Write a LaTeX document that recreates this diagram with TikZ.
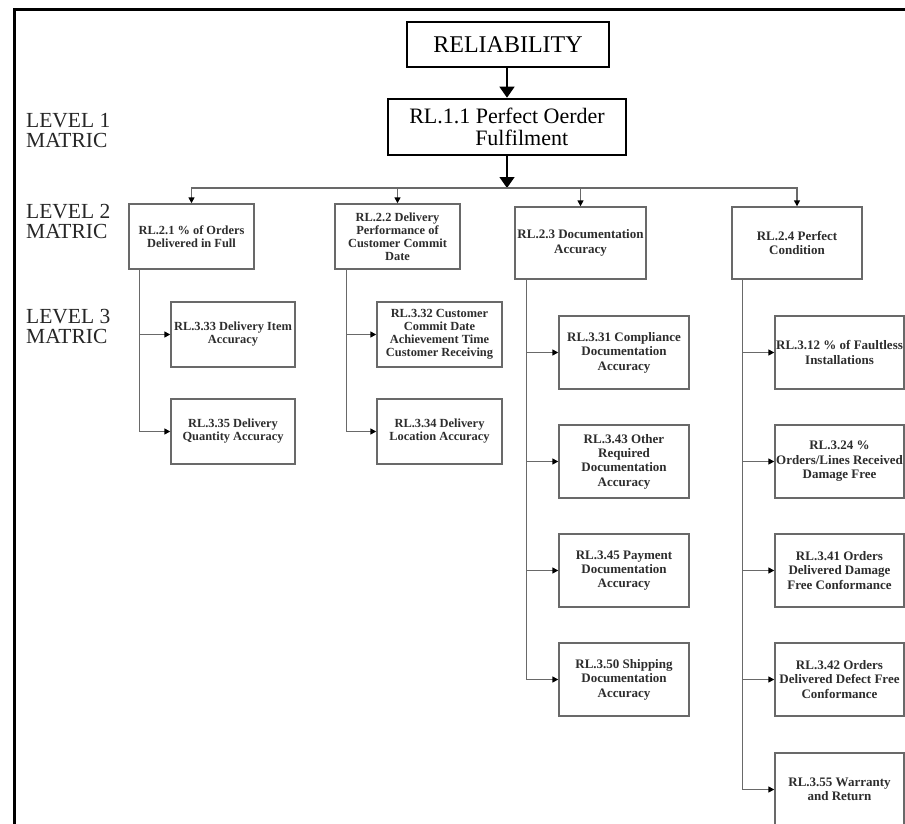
\documentclass[tikz,border=0pt]{standalone}
\usepackage{fontspec}
\setmainfont{Liberation Serif}
\usetikzlibrary{arrows.meta}
\definecolor{lngray}{RGB}{105,105,105}
\definecolor{txgray}{RGB}{45,45,45}
\begin{document}
\begin{tikzpicture}[x=1pt,y=-1pt,
  topbox/.style={draw=black,line width=2.6pt,inner sep=0pt,align=center,text=black},
  midbox/.style={draw=lngray,line width=1.4pt,inner sep=0pt,align=center,text=txgray,font=\fontsize{12.4}{13}\selectfont\bfseries},
  widebox/.style={midbox,font=\fontsize{13}{14.4}\selectfont\bfseries},
  lvl/.style={anchor=base west,inner sep=0pt,font=\fontsize{21.5}{22}\selectfont,text=black!85},
  bigarr/.style={draw=black,line width=1.4pt,-{Triangle[width=15pt,length=11pt]}},
  conn/.style={draw=lngray,line width=1.4pt,-{Triangle[width=6pt,length=6pt,color=black]}}]
\useasboundingbox (0,0) rectangle (905,824);
\fill[white] (0,0) rectangle (905,824);
% outer frame
\draw[line width=3pt,black] (14,830) -- (14,10) -- (910,10);

% level labels
\node[lvl] (lv1a) at (26,128) {LEVEL 1};
\node[lvl] (lv1b) at (26,148) {MATRIC};
\node[lvl] (lv2a) at (26,218) {LEVEL 2};
\node[lvl] (lv2b) at (26,238) {MATRIC};
\node[lvl] (lv3a) at (26,323) {LEVEL 3};
\node[lvl] (lv3b) at (26,343) {MATRIC};

% top boxes
\node[topbox,minimum width=202pt,minimum height=45pt,font=\fontsize{24}{26}\selectfont] (rel) at (508,44.5) {RELIABILITY};
\node[topbox,minimum width=238pt,minimum height=56pt,align=left,font=\fontsize{22}{22}\selectfont] (l1) at (507,127) {RL.1.1 Perfect Oerder\\\hspace*{66pt}Fulfilment};
\draw[bigarr] (l1.north |- rel.south) -- (l1.north);
\coordinate (bus) at (507,188);
\draw[bigarr] (l1.south) -- (bus);

% level 2
\node[midbox,minimum width=125pt,minimum height=65pt] (l21) at (191.5,236.5) {RL.2.1 \% of Orders\\Delivered in Full};
\node[midbox,minimum width=125pt,minimum height=65pt] (l22) at (397.5,236.5) {RL.2.2 Delivery\\Performance of\\Customer Commit\\Date};
\node[widebox,minimum width=131pt,minimum height=72pt] (l23) at (580.5,243) {RL.2.3 Documentation\\Accuracy};
\node[widebox,minimum width=130pt,minimum height=72pt] (l24) at (797,243) {RL.2.4 Perfect\\Condition};
\draw[conn] (bus) -| (l21.north);
\draw[conn] (bus) -| (l22.north);
\draw[conn] (bus) -| (l23.north);
\draw[conn] (bus) -| (l24.north);

% level 3, column 1
\node[midbox,minimum width=124pt,minimum height=65pt] (l333) at (233,334.5) {RL.3.33 Delivery Item\\Accuracy};
\node[midbox,minimum width=124pt,minimum height=65pt] (l335) at (233,431.5) {RL.3.35 Delivery\\Quantity Accuracy};
% column 2
\node[midbox,minimum width=125pt,minimum height=65pt] (l332) at (439.5,334.5) {RL.3.32 Customer\\Commit Date\\Achievement Time\\Customer Receiving};
\node[midbox,minimum width=125pt,minimum height=65pt] (l334) at (439.5,431.5) {RL.3.34 Delivery\\Location Accuracy};
% column 3
\node[widebox,minimum width=130pt,minimum height=73pt] (l331) at (624,352.5) {RL.3.31 Compliance\\Documentation\\Accuracy};
\node[widebox,minimum width=130pt,minimum height=73pt] (l343) at (624,461.5) {RL.3.43 Other\\Required\\Documentation\\Accuracy};
\node[widebox,minimum width=130pt,minimum height=73pt] (l345) at (624,570.5) {RL.3.45 Payment\\Documentation\\Accuracy};
\node[widebox,minimum width=130pt,minimum height=73pt] (l350) at (624,679.5) {RL.3.50 Shipping\\Documentation\\Accuracy};
% column 4
\node[widebox,minimum width=129pt,minimum height=73pt] (l312) at (839.5,352.5) {RL.3.12 \% of Faultless\\Installations};
\node[widebox,minimum width=129pt,minimum height=73pt] (l324) at (839.5,461.5) {RL.3.24 \%\\Orders/Lines Received\\Damage Free};
\node[widebox,minimum width=129pt,minimum height=73pt] (l341) at (839.5,570.5) {RL.3.41 Orders\\Delivered Damage\\Free Conformance};
\node[widebox,minimum width=129pt,minimum height=73pt] (l342) at (839.5,679.5) {RL.3.42 Orders\\Delivered Defect Free\\Conformance};
\node[widebox,minimum width=129pt,minimum height=73pt] (l355) at (839.5,789.5) {RL.3.55 Warranty\\and Return};

% trunks
\coordinate (t1) at ([xshift=11pt]l21.south west);
\coordinate (t2) at ([xshift=12pt]l22.south west);
\coordinate (t3) at ([xshift=12pt]l23.south west);
\coordinate (t4) at ([xshift=11pt]l24.south west);
\draw[conn] (t1) |- (l333.west);
\draw[conn] (t1) |- (l335.west);
\draw[conn] (t2) |- (l332.west);
\draw[conn] (t2) |- (l334.west);
\draw[conn] (t3) |- (l331.west);
\draw[conn] (t3) |- (l343.west);
\draw[conn] (t3) |- (l345.west);
\draw[conn] (t3) |- (l350.west);
\draw[conn] (t4) |- (l312.west);
\draw[conn] (t4) |- (l324.west);
\draw[conn] (t4) |- (l341.west);
\draw[conn] (t4) |- (l342.west);
\draw[conn] (t4) |- (l355.west);
\end{tikzpicture}
\end{document}
